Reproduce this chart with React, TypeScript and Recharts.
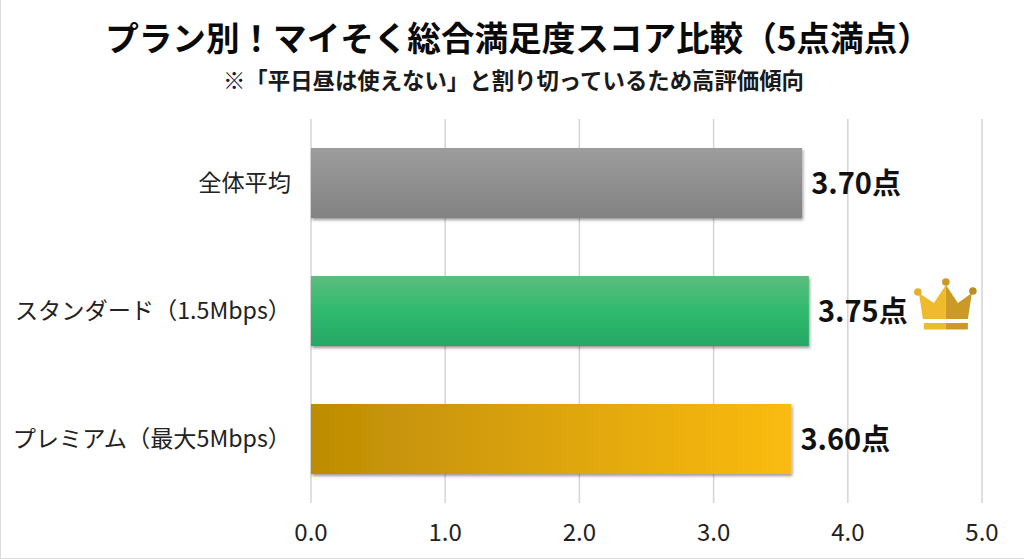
import React from "react";
import { BarChart, Bar, XAxis, YAxis, CartesianGrid, Cell, LabelList } from "recharts";

const categories = ["全体平均", "スタンダード（1.5Mbps）", "プレミアム（最大5Mbps）"];
const barLengths = [3.66, 3.71, 3.58];
const scoreLabels = ["3.70点", "3.75点", "3.60点"];
const winner = [false, true, false];
const xTicks = [0, 1, 2, 3, 4, 5];
const fills = ["url(#gradGray)", "url(#gradGreen)", "url(#gradGold)"];

const titleText = "プラン別！マイそく総合満足度スコア比較（5点満点）";
const subtitleText = "※「平日昼は使えない」と割り切っているため高評価傾向";

const data = categories.map((name, i) => ({
  name,
  value: barLengths[i],
  label: scoreLabels[i],
  crown: winner[i],
}));

const FONT = '"Noto Sans CJK JP", "Noto Sans", sans-serif';

const ScoreLabel = (props: any) => {
  const { x, y, width, height, index } = props;
  const lx = x + width + 9;
  const cy = y + height / 2 - 2;
  return (
    <g>
      <text x={lx} y={cy} dominantBaseline="central" fontFamily={FONT} fontWeight={700} fontSize={29} fill="#111">
        {scoreLabels[index]}
      </text>
      {winner[index] ? (
        <g transform={`translate(${lx + 97},${y})`}>
          <path d="M31 9 L43 27 L57 17 L53 43 L31 43 Z" fill="#cb9a26" />
          <path d="M31 9 L19 27 L4 17 L8 43 L31 43 Z" fill="#efba2c" />
          <circle cx="31" cy="6" r="3.8" fill="#cb9a26" />
          <circle cx="3" cy="16" r="3.8" fill="#e6b02c" />
          <circle cx="58" cy="15" r="3.8" fill="#b98d27" />
          <rect x="9" y="47" width="22" height="6.5" fill="#efba2c" />
          <rect x="31" y="47" width="22" height="6.5" fill="#cb9a26" />
        </g>
      ) : null}
    </g>
  );
};

const CategoryTick = (props: any) => {
  const { y, payload } = props;
  return (
    <text x={291} y={y - 2} textAnchor="end" dominantBaseline="central" fontFamily={FONT} fontSize={23.2} fill="#222">
      {payload.value}
    </text>
  );
};

export default function App() {
  return (
    <div style={{ position: "absolute", left: 0, top: 0, width: 1024, height: 559, boxSizing: "border-box", background: "#fff", overflow: "hidden", fontFamily: FONT, borderLeft: "1px solid #dcdcdc", borderBottom: "1px solid #dcdcdc" }}>
      <div style={{ position: "absolute", left: -1, width: 1036, top: 13, textAlign: "center", fontSize: 33.6, lineHeight: "48px", fontWeight: 700, color: "#0a0a0a", whiteSpace: "nowrap" }}>
        {titleText}
      </div>
      <div style={{ position: "absolute", left: -1, width: 1027, top: 63, textAlign: "center", fontSize: 22.4, lineHeight: "32px", fontWeight: 700, color: "#1a1a1a", whiteSpace: "nowrap" }}>
        {subtitleText}
      </div>
      <div style={{ position: "absolute", left: -1, top: 0 }}>
        <BarChart
          width={1024}
          height={559}
          data={data}
          layout="vertical"
          margin={{ top: 119, right: 42, bottom: 0, left: 0 }}
          barCategoryGap={29}
        >
          <defs>
            <linearGradient id="gradGray" x1="0" y1="0" x2="0" y2="1">
              <stop offset="0" stopColor="#9c9c9c" />
              <stop offset="1" stopColor="#828282" />
            </linearGradient>
            <linearGradient id="gradGreen" x1="0" y1="0" x2="0" y2="1">
              <stop offset="0" stopColor="#5cbd7e" />
              <stop offset="0.5" stopColor="#2fba6e" />
              <stop offset="1" stopColor="#26a865" />
            </linearGradient>
            <linearGradient id="gradGold" x1="0" y1="0" x2="1" y2="0">
              <stop offset="0" stopColor="#bd8c05" />
              <stop offset="1" stopColor="#fbbb12" />
            </linearGradient>
            <filter id="barShadow" x="-5%" y="-10%" width="110%" height="125%">
              <feDropShadow dx="1" dy="2" stdDeviation="1.5" floodColor="#000" floodOpacity="0.4" />
            </filter>
          </defs>
          <CartesianGrid horizontal={false} stroke="#d4d4d4" strokeWidth={1.5} />
          <XAxis
            type="number"
            domain={[0, 5]}
            ticks={xTicks}
            axisLine={false}
            tickLine={false}
            tickFormatter={(v: number) => v.toFixed(1)}
            tick={{ fontFamily: FONT, fontSize: 24, fill: "#222" }}
            tickMargin={15}
            height={56}
          />
          <YAxis
            type="category"
            dataKey="name"
            width={311}
            axisLine={false}
            tickLine={false}
            interval={0}
            tick={<CategoryTick />}
          />
          <Bar dataKey="value" isAnimationActive={false} barSize={70} style={{ filter: "url(#barShadow)" }}>
            {data.map((d, i) => (
              <Cell key={d.name} fill={fills[i]} />
            ))}
            <LabelList dataKey="label" content={<ScoreLabel />} />
          </Bar>
        </BarChart>
      </div>
    </div>
  );
}
